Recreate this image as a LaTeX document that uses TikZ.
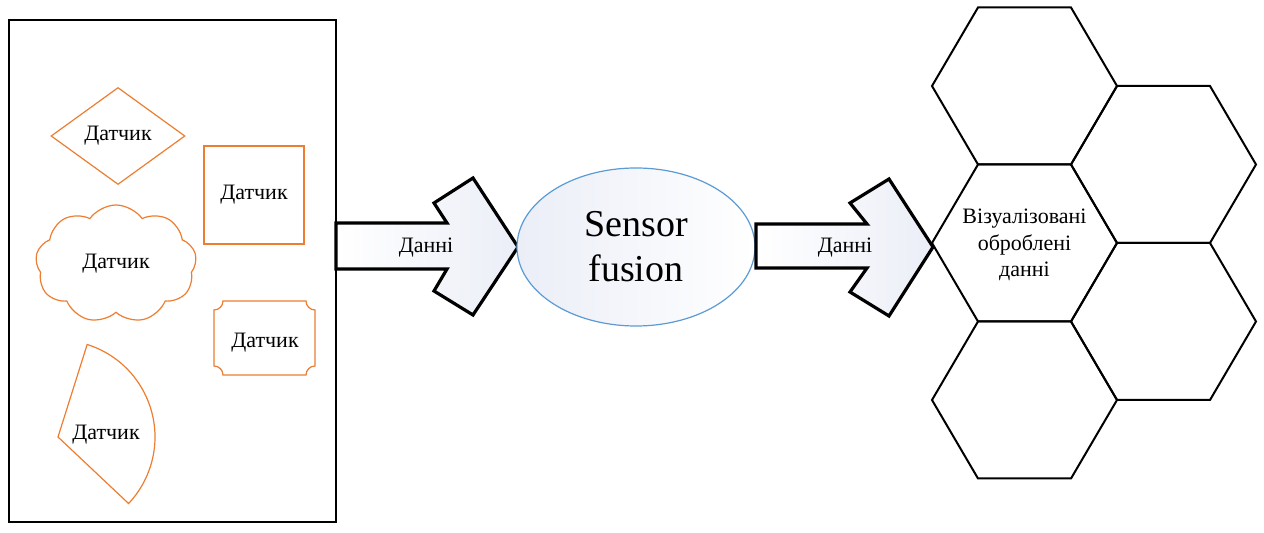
\documentclass[tikz,border=0pt]{standalone}
\usepackage{fontspec}
\setmainfont{Liberation Serif}
\usetikzlibrary{shapes.geometric,shapes.symbols}
\definecolor{sensorline}{HTML}{ED7D31}
\definecolor{fusionline}{HTML}{5B9BD5}
\definecolor{arrowfill}{HTML}{EBEEF7}
\tikzset{
  sensorshape/.style={draw=sensorline,line width=0.6pt},
  sensortext/.style={font=\fontsize{11}{13.25}\selectfont,align=center,inner sep=0pt},
  bigarrow/.style={draw=black,line width=1.6pt,line join=miter,left color=white,right color=arrowfill},
  hexcell/.style={draw=black,line width=1pt,line join=miter}
}
\begin{document}
\begin{tikzpicture}[x=0.5pt,y=-0.5pt]
    \useasboundingbox(0,0)rectangle(1264,533);
    \draw[line width=1pt](9,20)rectangle(336,522);
    \node[sensorshape,sensortext,diamond,aspect=1.38,minimum width=67pt,minimum height=48.5pt](d1) at(118,136){Датчик};
    \node[sensorshape,sensortext,minimum width=50pt,minimum height=49pt](d2) at(254,195){Датчик};
    \node[sensorshape,sensortext,cloud,cloud puffs=9,cloud puff arc=110,cloud ignores aspect,minimum width=80.5pt,minimum height=59pt](d3) at(116,264){Датчик};
    \draw[sensorshape](223,301)--(306,301)arc[start angle=180,end angle=90,radius=9]
        --(315,366)arc[start angle=270,end angle=180,radius=9]
        --(223,375)arc[start angle=0,end angle=-90,radius=9]
        --(214,310)arc[start angle=90,end angle=0,radius=9]--cycle;
    \node[sensortext](d4) at(265,343){Датчик};
    \draw[sensorshape](58,437)--++(-72.5:97)arc[start angle=-72.5,end angle=43.3,radius=97]--cycle;
    \node[sensortext](d5) at(106,435){Датчик};
    \draw[bigarrow](336,223)--(447,223)--(434,203)--(473,178)--(518,247)--(473,315)--(434,291)--(447,269)--(336,269)--cycle;
    \node[sensortext](data1) at(426,248){Данні};
    \node[ellipse,draw=fusionline,line width=0.6pt,inner sep=0pt,minimum width=119pt,minimum height=79pt,
        left color=arrowfill,right color=white,font=\fontsize{19}{22.5}\selectfont,align=center](fusion) at(636,247){Sensor\\fusion};
    \draw[bigarrow](756,224)--(867,224)--(850,203)--(889,179)--(933,247)--(889,316)--(850,292)--(867,268)--(756,268)--cycle;
    \node[sensortext](data2) at(845,248){Данні};
    \foreach \cx/\cy in {1024.5/86,1024.5/243,1024.5/400,1163.5/164.5,1163.5/321.5}
        \draw[hexcell](\cx-92.5,\cy)--++(46,-78.5)--++(93,0)--++(46,78.5)--++(-46,78.5)--++(-93,0)--cycle;
    \node[sensortext](vis) at(1024.5,245){Візуалізовані\\оброблені\\данні};
\end{tikzpicture}
\end{document}
